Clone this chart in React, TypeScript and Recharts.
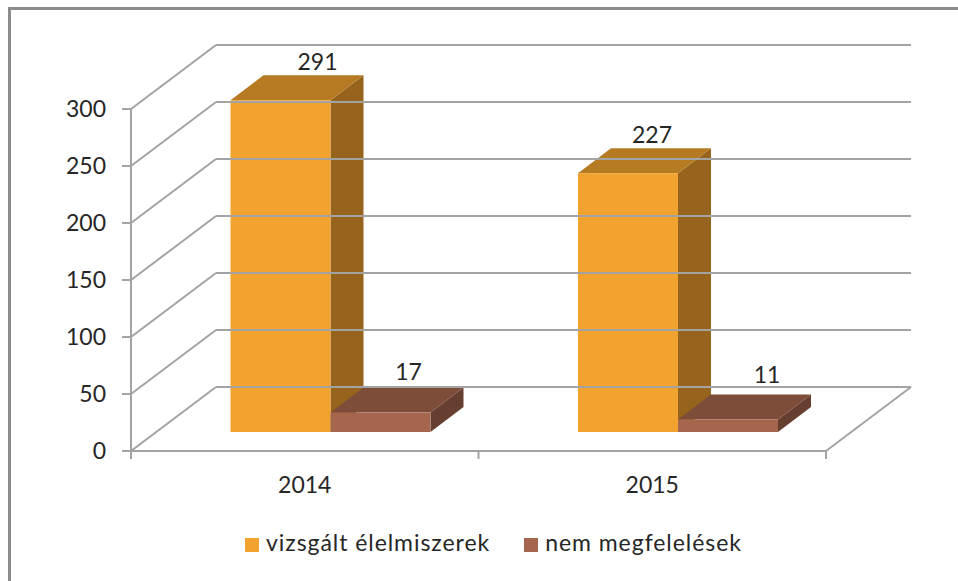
import React from 'react';
import { BarChart, Bar, XAxis, YAxis, Legend, LabelList } from 'recharts';

const years = ['2014', '2015'];
const vizsgalt = [291, 227];
const nemMegfelelo = [17, 11];
const yTicks = [0, 50, 100, 150, 200, 250, 300];

const data = years.map((year, i) => ({
  year,
  vizsgalt: vizsgalt[i],
  nem: nemMegfelelo[i],
}));

const GRID = '#a3a3a3';
const TEXT = '#262626';
const FONT = 'Lato, sans-serif';

// fake 3D: how far the back wall sits from the front of the floor
const WALL_DX = 85;
const WALL_DY = -64;
// the bars stand part way into the floor
const FLOOR_DX = 25.5;
const FLOOR_DY = -19;
const BAR_DX = 33;
const BAR_DY = -25;

const shade = (hex: string, k: number) => {
  const n = parseInt(hex.slice(1), 16);
  const c = [n >> 16, (n >> 8) & 255, n & 255].map(v => Math.round(v * k));
  return `rgb(${c.join(',')})`;
};

const Box3D = (props: any) => {
  const { x, y, width, height, fill } = props;
  const l = x + FLOOR_DX;
  const r = l + width;
  const t = y + FLOOR_DY;
  const b = t + height;
  const top = `${l},${t} ${r},${t} ${r + BAR_DX},${t + BAR_DY} ${l + BAR_DX},${t + BAR_DY}`;
  const side = `${r},${t} ${r + BAR_DX},${t + BAR_DY} ${r + BAR_DX},${b + BAR_DY} ${r},${b}`;
  return (
    <g>
      <polygon points={side} fill={shade(fill, 0.62)} />
      <polygon points={top} fill={shade(fill, 0.75)} />
      <rect x={l} y={t} width={width} height={height} fill={fill} />
    </g>
  );
};

const WallTick = (props: any) => {
  const { x, y, payload } = props;
  const right = 826 + WALL_DX;
  return (
    <g>
      <line x1={x - 9} y1={y} x2={x} y2={y} stroke={GRID} strokeWidth={2} />
      <line x1={x} y1={y} x2={x + WALL_DX} y2={y + WALL_DY} stroke={GRID} strokeWidth={2} />
      <line x1={x + WALL_DX} y1={y + WALL_DY} x2={right} y2={y + WALL_DY} stroke={GRID} strokeWidth={2} />
      <text x={x - 25} y={y + 8} textAnchor="end" fontFamily={FONT} fontSize={23} fill={TEXT}>
        {payload.value}
      </text>
    </g>
  );
};

const YearTick = (props: any) => {
  const { x, y, payload, index } = props;
  const half = 347.5 / 2;
  return (
    <g>
      {index === 0 && <line x1={x - half} y1={y} x2={x - half} y2={y + 8} stroke={GRID} strokeWidth={2} />}
      <line x1={x + half} y1={y} x2={x + half} y2={y + 8} stroke={GRID} strokeWidth={2} />
      {index === years.length - 1 && (
        <line x1={x + half} y1={y} x2={x + half + WALL_DX} y2={y + WALL_DY} stroke={GRID} strokeWidth={2} />
      )}
      <text x={x} y={y + 42} textAnchor="middle" fontFamily={FONT} fontSize={23} fill={TEXT}>
        {payload.value}
      </text>
    </g>
  );
};

// the value labels do not sit at one fixed spot over the bars
const labelNudge = { vizsgalt: [[37, -30], [24, -30]], nem: [[28, -33], [39, -36]] };

const BarValue = (key: 'vizsgalt' | 'nem') => (props: any) => {
  const { x, y, width, value, index } = props;
  const [dx, dy] = labelNudge[key][index];
  return (
    <text
      x={x + FLOOR_DX + width / 2 + dx}
      y={y + FLOOR_DY + dy}
      textAnchor="middle"
      fontFamily={FONT}
      fontSize={23}
      fill={TEXT}
    >
      {value}
    </text>
  );
};

export default function App() {
  return (
    <div
      style={{
        position: 'absolute',
        left: 0,
        top: 0,
        width: 958,
        height: 581,
        background: '#fff',
        overflow: 'hidden',
      }}
    >
      {/* only the top and left edges of the frame are inside the picture */}
      <div
        style={{
          position: 'absolute',
          left: 8,
          top: 7,
          width: 1000,
          height: 600,
          borderTop: '3px solid #8c8c8c',
          borderLeft: '3px solid #8c8c8c',
          boxSizing: 'border-box',
        }}
      />
      <BarChart
        width={958}
        height={581}
        data={data}
        margin={{ top: 109, right: 132, bottom: 62, left: 71 }}
        barCategoryGap={74}
        barGap={0}
        style={{ position: 'absolute', left: 0, top: 0 }}
      >
        <YAxis
          domain={[0, 300]}
          ticks={yTicks}
          width={60}
          axisLine={{ stroke: GRID, strokeWidth: 2 }}
          tickLine={false}
          tickSize={0}
          tickMargin={0}
          tick={<WallTick />}
          interval={0}
        />
        <XAxis
          dataKey="year"
          axisLine={{ stroke: GRID, strokeWidth: 2 }}
          tickLine={false}
          tickSize={0}
          tickMargin={0}
          tick={<YearTick />}
          height={40}
        />
        <Legend
          layout="horizontal"
          align="left"
          verticalAlign="bottom"
          iconType="square"
          iconSize={14}
          itemSorter={null}
          wrapperStyle={{ left: 245, top: 528, width: 560, fontFamily: FONT, fontSize: 23, letterSpacing: 0.95 }}
          formatter={(value: string) => <span style={{ color: TEXT, marginLeft: 3, marginRight: 24 }}>{value}</span>}
        />
        <Bar
          dataKey="vizsgalt"
          name="vizsgált élelmiszerek"
          fill="#f2a22e"
          shape={<Box3D />}
          isAnimationActive={false}
        >
          <LabelList dataKey="vizsgalt" content={BarValue('vizsgalt')} />
        </Bar>
        <Bar
          dataKey="nem"
          name="nem megfelelések"
          fill="#a6664d"
          shape={<Box3D />}
          isAnimationActive={false}
        >
          <LabelList dataKey="nem" content={BarValue('nem')} />
        </Bar>
      </BarChart>
    </div>
  );
}
